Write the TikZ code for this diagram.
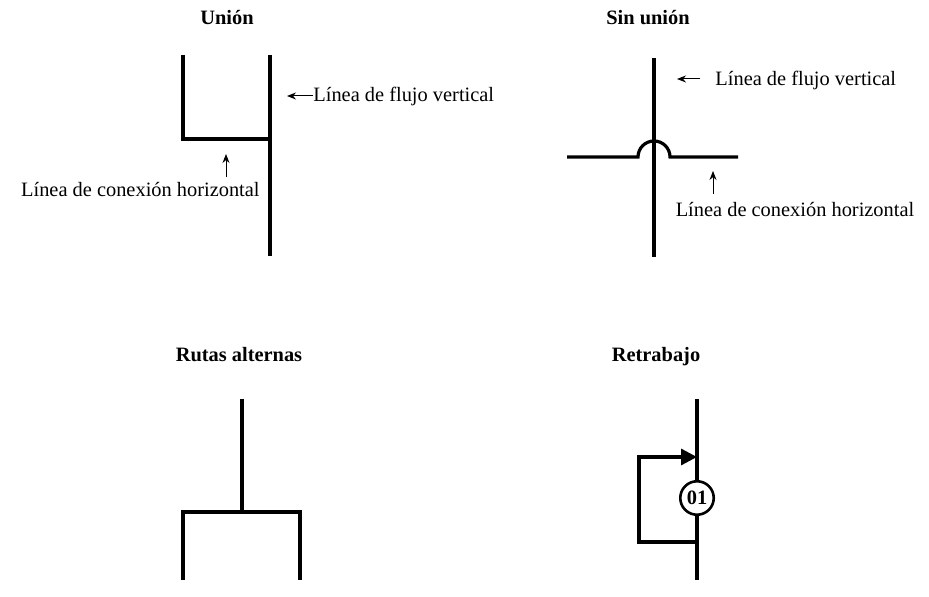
\documentclass[tikz,border=0pt]{standalone}
\usepackage{fontspec}
\setmainfont{Liberation Serif}
\usetikzlibrary{arrows.meta}

\tikzset{
  flow/.style={line width=1.6pt},
  callout/.style={line width=0.5pt,-{Stealth[length=4.5pt,width=3.5pt]}},
  caption/.style={font=\fontsize{10.2}{12}\selectfont,inner sep=0pt},
  heading/.style={font=\fontsize{10.2}{12}\selectfont\bfseries,inner sep=0pt,anchor=base}
}

\begin{document}
\begin{tikzpicture}[x=0.5pt,y=-0.5pt]
                    \useasboundingbox (0,0) rectangle (929,597);
                    % union
                    \node[heading] (t1) at (227, 25) {Unión};
                    \coordinate (u1) at (183, 55);
                    \coordinate (u2) at (183, 139);
                    \coordinate (u3) at (270, 139);
                    \coordinate (u4) at (270, 55);
                    \coordinate (u5) at (270, 256);
                    \draw[flow] (u1) -- (u2) -- (u3);
                    \draw[flow] (u4) -- (u5);
                    \node[caption,anchor=west] (v1) at (313, 96) {Línea de flujo vertical};
                    \coordinate (v1a) at (287, 96);
                    \draw[callout] (v1.west) -- (v1a);
                    \node[caption,anchor=east] (h1) at (260, 190) {Línea de conexión horizontal};
                    \coordinate (h1a) at (226, 154);
                    \coordinate (h1b) at (226, 177);
                    \draw[callout] (h1b) -- (h1a);

                    % sin union
                    \node[heading] (t2) at (648, 25) {Sin unión};
                    \coordinate (s1) at (654, 58);
                    \coordinate (s2) at (654, 257);
                    \coordinate (s3) at (567, 157);
                    \coordinate (s4) at (738, 157);
                    \draw[flow] (s1) -- (s2);
                    \draw[flow] (s3) -- (638, 157) arc[start angle=180, end angle=360, radius=16] -- (s4);
                    \node[caption,anchor=west] (v2) at (715, 80) {Línea de flujo vertical};
                    \coordinate (v2a) at (700, 79);
                    \coordinate (v2b) at (677, 79);
                    \draw[callout] (v2a) -- (v2b);
                    \node[caption] (h2) at (795, 210) {Línea de conexión horizontal};
                    \coordinate (h2a) at (713, 171);
                    \draw[callout] (713, 194) -- (h2a);

                    % rutas alternas
                    \node[heading] (t3) at (239, 362) {Rutas alternas};
                    \coordinate (r1) at (242, 399);
                    \coordinate (r2) at (242, 512);
                    \draw[flow] (r1) -- (r2);
                    \draw[flow] (183, 580) -- (183, 512) -- (300, 512) -- (300, 580);

                    % retrabajo
                    \node[heading] (t4) at (656, 362) {Retrabajo};
                    \node[draw,circle,line width=1.3pt,inner sep=1.6pt,font=\fontsize{10.2}{12}\selectfont\bfseries] (op) at (697, 498) {01};
                    \coordinate (w1) at (697, 399);
                    \coordinate (w2) at (697, 580);
                    \coordinate (w3) at (697, 457);
                    \coordinate (w4) at (697, 542);
                    \draw[flow] (w1) -- (op);
                    \draw[flow] (op) -- (w2);
                    \draw[flow,-{Triangle[length=8pt,width=8pt]}] (w4) -- (639, 542) -- (639, 457) -- (w3);
\end{tikzpicture}
\end{document}
